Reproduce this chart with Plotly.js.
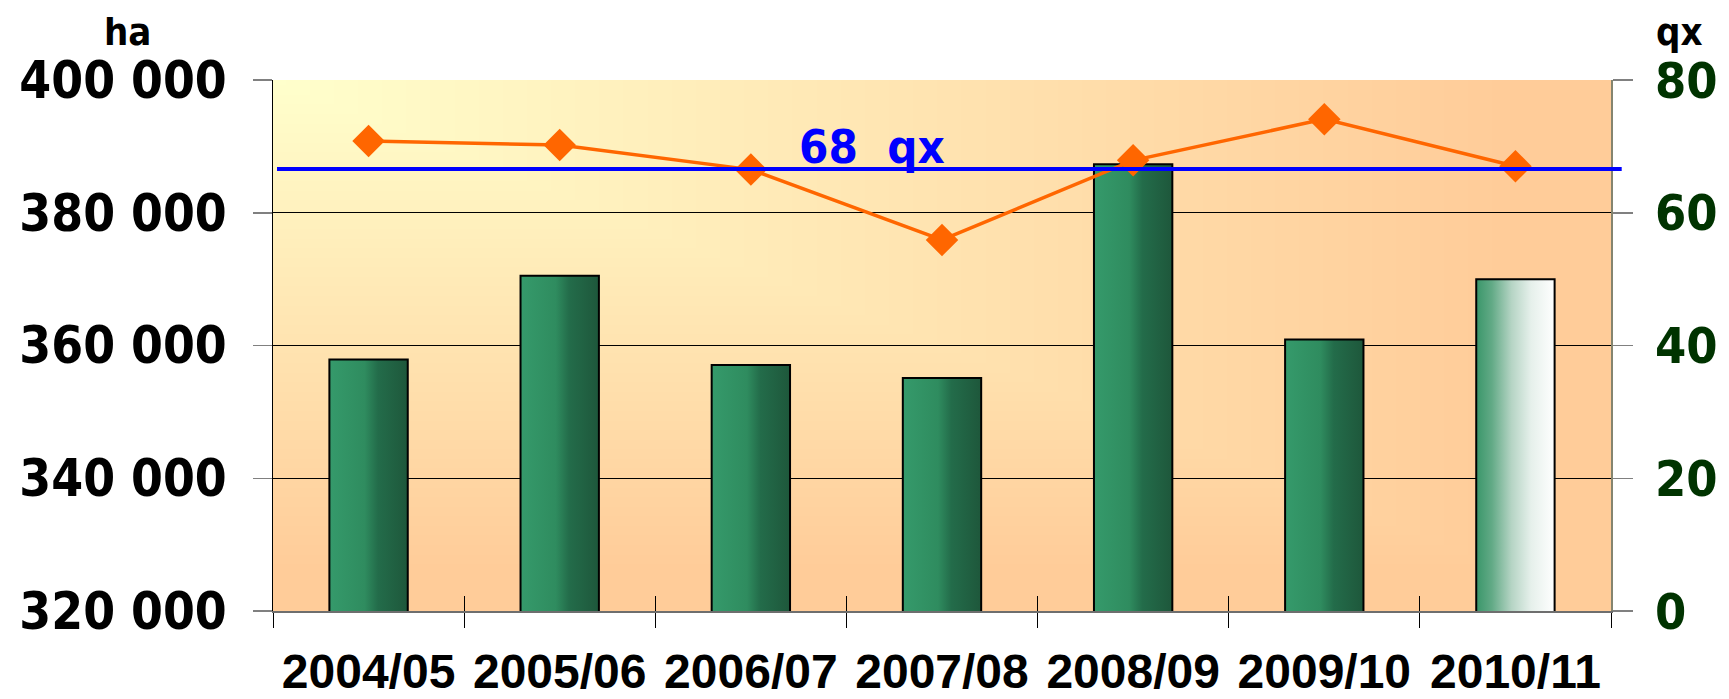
<!DOCTYPE html>
<html>
<head>
<meta charset="utf-8">
<script src="https://cdn.plot.ly/plotly-3.0.1.min.js"></script>
<style>
  html, body { margin: 0; padding: 0; background: #ffffff; }
  #chart { width: 1729px; height: 699px; }
</style>
</head>
<body>
<div id="chart"></div>
<script>
// ---- data ----
const categories = ['2004/05', '2005/06', '2006/07', '2007/08', '2008/09', '2009/10', '2010/11'];
const areaHa = [357900, 370500, 357050, 355100, 387300, 360900, 370000];
const yieldQx = [70.8, 70.2, 66.5, 55.9, 67.9, 74.1, 67.0];
const avgQx = [66.6];
const avgLabel = '68  qx';
const leftTicks = [320000, 340000, 360000, 380000, 400000];
const rightTicks = [0, 20, 40, 60, 80];
const leftUnit = 'ha';
const rightUnit = 'qx';

function fmtSpace(v) {
  return String(v).replace(/\B(?=(\d{3})+(?!\d))/g, ' ');
}

// background gradient (corner gradient: light yellow top-left -> peach)
function makeBg(w, h) {
  const c = document.createElement('canvas');
  c.width = w; c.height = h;
  const ctx = c.getContext('2d');
  const img = ctx.createImageData(w, h);
  const c0 = [255, 255, 204], c1 = [255, 204, 153];
  for (let y = 0; y < h; y++) {
    for (let x = 0; x < w; x++) {
      let t = Math.max(x / w, y / h) / 0.92;
      if (t > 1) t = 1;
      const i = (y * w + x) * 4;
      img.data[i] = c0[0] + (c1[0] - c0[0]) * t;
      img.data[i + 1] = c0[1] + (c1[1] - c0[1]) * t;
      img.data[i + 2] = c0[2] + (c1[2] - c0[2]) * t;
      img.data[i + 3] = 255;
    }
  }
  ctx.putImageData(img, 0, 0);
  return c.toDataURL('image/png');
}

const tickFontFam = '"DejaVu Sans Condensed", "DejaVu Sans", sans-serif';
const catFontFam = '"Liberation Sans", Arial, sans-serif';

const bars = {
  type: 'bar',
  x: categories,
  y: areaHa,
  xaxis: 'x',
  yaxis: 'y',
  marker: { color: '#2e8b5e', line: { color: '#000000', width: 2 } },
  hoverinfo: 'skip'
};

const line = {
  type: 'scatter',
  mode: 'lines+markers',
  x: categories,
  y: yieldQx,
  xaxis: 'x2',
  yaxis: 'y2',
  line: { color: '#ff6600', width: 3.5 },
  marker: { symbol: 'diamond', size: 25, color: '#ff6600' },
  hoverinfo: 'skip'
};

const layout = {
  width: 1729,
  height: 699,
  margin: { l: 273, r: 118, t: 80, b: 88, pad: 0 },
  paper_bgcolor: '#ffffff',
  plot_bgcolor: 'rgba(0,0,0,0)',
  showlegend: false,
  bargap: 0.59,
  xaxis: {
    type: 'category',
    categoryorder: 'array',
    categoryarray: categories,
    range: [-0.5, categories.length - 0.5],
    showline: true,
    linecolor: '#6e6e6e',
    linewidth: 1.5,
    ticks: 'outside',
    tickson: 'boundaries',
    ticklen: 15,
    tickwidth: 1,
    tickcolor: '#000000',
    showgrid: false,
    zeroline: false,
    tickfont: { family: catFontFam, size: 48, color: '#000000', weight: 'bold' },
    ticklabelstandoff: 18,
    fixedrange: true
  },
  xaxis2: {
    type: 'category',
    categoryorder: 'array',
    categoryarray: categories,
    range: [-0.5, categories.length - 0.5],
    overlaying: 'x',
    anchor: 'y',
    side: 'bottom',
    showline: false,
    ticks: 'inside',
    tickson: 'boundaries',
    ticklen: 15,
    tickwidth: 1,
    tickcolor: '#000000',
    showticklabels: false,
    showgrid: false,
    zeroline: false,
    fixedrange: true
  },
  yaxis: {
    range: [leftTicks[0], leftTicks[leftTicks.length - 1]],
    tickmode: 'array',
    tickvals: leftTicks,
    ticktext: leftTicks.map(fmtSpace),
    showline: true,
    linecolor: '#000000',
    linewidth: 1,
    ticks: 'outside',
    ticklen: 19,
    tickwidth: 1.5,
    tickcolor: '#808080',
    showgrid: true,
    gridcolor: '#000000',
    gridwidth: 1,
    zeroline: false,
    tickfont: { family: tickFontFam, size: 51, color: '#000000', weight: 'bold' },
    ticklabelstandoff: 16,
    fixedrange: true
  },
  yaxis2: {
    range: [rightTicks[0], rightTicks[rightTicks.length - 1]],
    tickmode: 'array',
    tickvals: rightTicks,
    overlaying: 'y',
    side: 'right',
    anchor: 'x',
    showline: true,
    linecolor: '#85856f',
    linewidth: 2,
    ticks: 'outside',
    ticklen: 20,
    tickwidth: 1.5,
    tickcolor: '#808080',
    showgrid: false,
    zeroline: false,
    tickfont: { family: tickFontFam, size: 50, color: '#003300', weight: 'bold' },
    ticklabelstandoff: 12,
    fixedrange: true
  },
  shapes: [{
    type: 'line',
    xref: 'paper', yref: 'y2',
    x0: 0.003, x1: 1.008,
    y0: avgQx[0], y1: avgQx[0],
    line: { color: '#0000ff', width: 4 },
    layer: 'above'
  }],
  annotations: [
    {
      text: avgLabel, xref: 'paper', yref: 'paper', x: 0.4477, y: 0.875,
      xanchor: 'center', yanchor: 'middle', showarrow: false,
      font: { family: tickFontFam, size: 47, color: '#0000ff', weight: 'bold' }
    },
    {
      text: leftUnit, xref: 'paper', yref: 'paper', x: -0.109, y: 1.091,
      xanchor: 'center', yanchor: 'middle', showarrow: false,
      font: { family: tickFontFam, size: 38, color: '#000000', weight: 'bold' }
    },
    {
      text: rightUnit, xref: 'paper', yref: 'paper', x: 1.051, y: 1.091,
      xanchor: 'center', yanchor: 'middle', showarrow: false,
      font: { family: tickFontFam, size: 38, color: '#000000', weight: 'bold' }
    }
  ],
  images: [{
    source: makeBg(1338, 531),
    xref: 'paper', yref: 'paper',
    x: 0, y: 1, sizex: 1, sizey: 1,
    xanchor: 'left', yanchor: 'top',
    sizing: 'stretch', layer: 'below'
  }]
};

Plotly.newPlot('chart', [bars, line], layout, { staticPlot: true, displayModeBar: false }).then(function (gd) {
  const svgNS = 'http://www.w3.org/2000/svg';
  const svg = gd.querySelector('.main-svg');
  let defs = svg.querySelector('defs');
  if (!defs) { defs = document.createElementNS(svgNS, 'defs'); svg.insertBefore(defs, svg.firstChild); }
  function addGrad(id, stops) {
    const g = document.createElementNS(svgNS, 'linearGradient');
    g.setAttribute('id', id);
    g.setAttribute('x1', '0'); g.setAttribute('y1', '0');
    g.setAttribute('x2', '1'); g.setAttribute('y2', '0');
    stops.forEach(function (s) {
      const st = document.createElementNS(svgNS, 'stop');
      st.setAttribute('offset', s[0]);
      st.setAttribute('stop-color', s[1]);
      g.appendChild(st);
    });
    defs.appendChild(g);
  }
  addGrad('gradGreen', [['0', '#359a6b'], ['0.45', '#2f8c5f'], ['0.62', '#236c4a'], ['1', '#1e573b']]);
  addGrad('gradFade', [['0', '#3a966a'], ['0.2', '#62aa86'], ['0.45', '#b5d4c4'], ['0.7', '#e6f0eb'], ['1', '#ffffff']]);
  const paths = gd.querySelectorAll('.barlayer .point path');
  paths.forEach(function (p, i) {
    p.style.fill = (i === paths.length - 1) ? 'url(#gradFade)' : 'url(#gradGreen)';
  });
});
</script>
</body>
</html>
